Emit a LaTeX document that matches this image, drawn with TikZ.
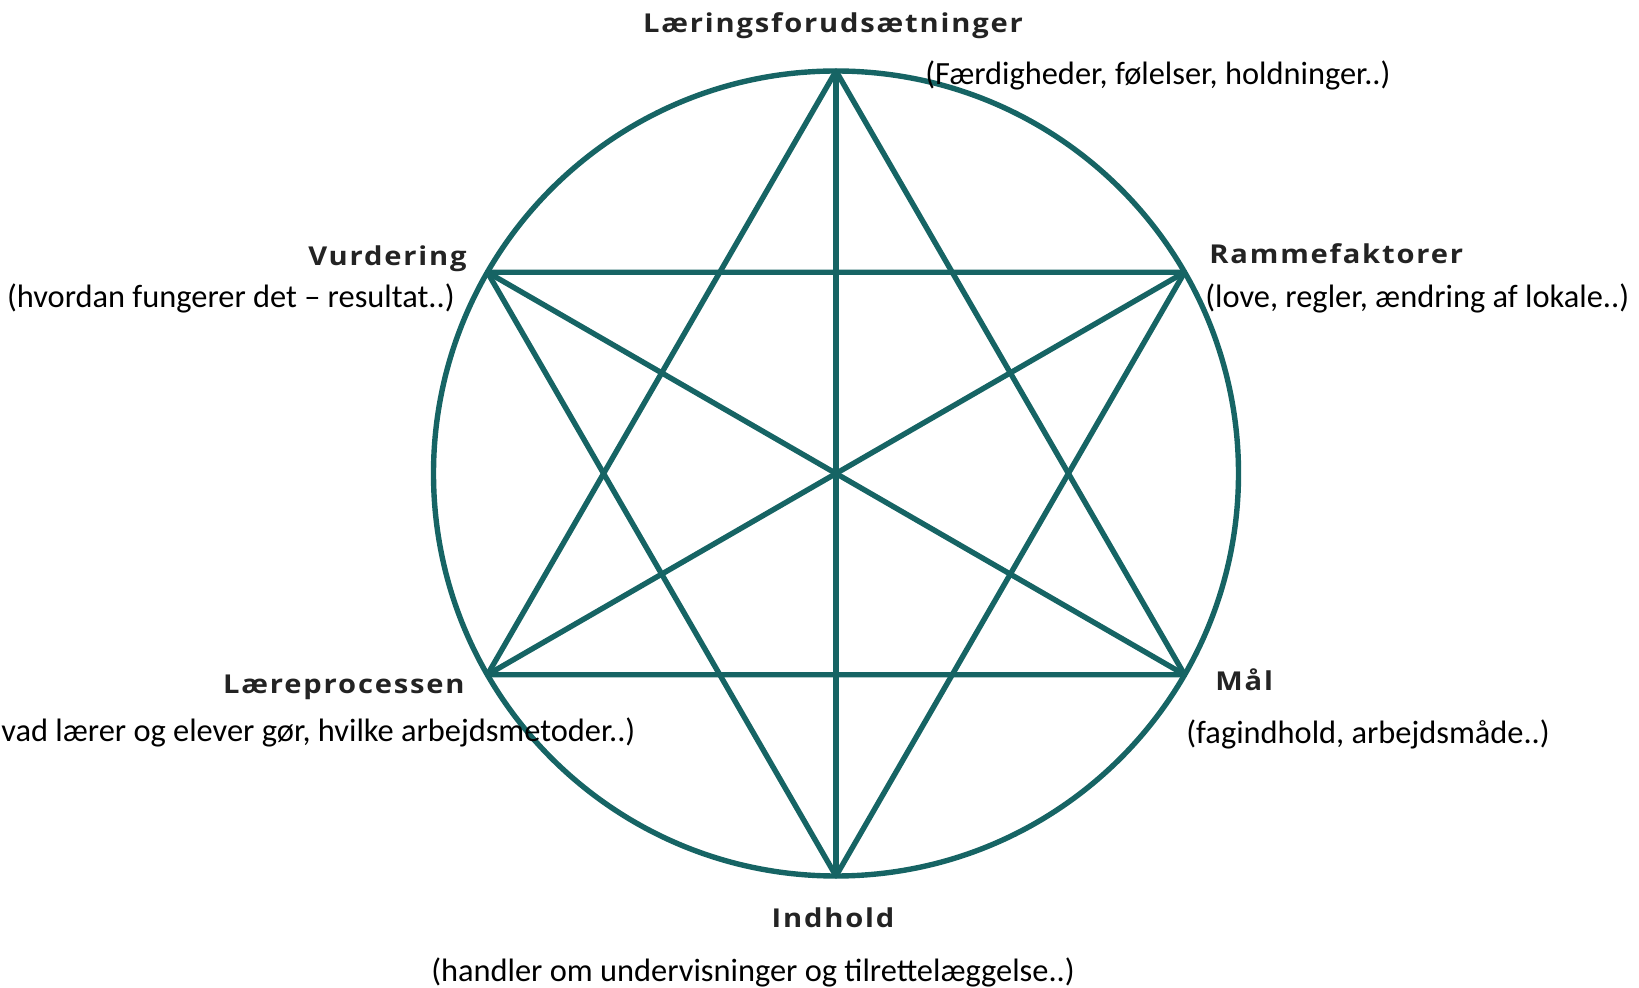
\documentclass[tikz,border=0pt]{standalone}
\usepackage{fontspec}
\setmainfont{Carlito}
\newfontfamily\lblfont[LetterSpace=7,FakeStretch=1.12]{Open Sans}
\definecolor{teal}{RGB}{22,100,100}
\definecolor{lbl}{RGB}{35,35,35}
\begin{document}
\begin{tikzpicture}[x={(0.5pt,0)},y={(0,-0.5pt)},
  edge/.style={draw=teal,line width=2.7pt,line join=round},
  title/.style={inner sep=0pt,text=lbl,font=\lblfont\bfseries\fontsize{13}{15}\selectfont},
  note/.style={inner sep=0pt,text=black,font=\fontsize{16.2}{19}\selectfont}]
\useasboundingbox (0,0) rectangle (1639,988);
\coordinate (c) at (836,473.5);
\coordinate (T) at (836,71);
\coordinate (B) at (836,876);
\coordinate (UL) at (487.4,272.25);
\coordinate (UR) at (1184.6,272.25);
\coordinate (LL) at (487.4,674.75);
\coordinate (LR) at (1184.6,674.75);
\draw[edge] (c) circle[radius=402.5];
\draw[edge] (T) -- (LL) -- (LR) -- cycle;
\draw[edge] (UL) -- (UR) -- (B) -- cycle;
\draw[edge] (T) -- (B);
\draw[edge] (UL) -- (LR);
\draw[edge] (UR) -- (LL);
\node[title] (t1) at (833,26) {Læringsforudsætninger};
\node[note,anchor=west] (n1) at (925,75) {(Færdigheder, følelser, holdninger..)};
\node[title,anchor=east] (t2) at (467,259) {Vurdering};
\node[note,anchor=east] (n2) at (455,298) {(hvordan fungerer det – resultat..)};
\node[title,anchor=west] (t3) at (1209,254) {Rammefaktorer};
\node[note,anchor=west] (n3) at (1205,298) {(love, regler, ændring af lokale..)};
\node[title,anchor=east] (t4) at (465,687) {Læreprocessen};
\node[note,anchor=west] (n4) at (1,732) {vad lærer og elever gør, hvilke arbejdsmetoder..)};
\node[title,anchor=west] (t5) at (1215,680) {Mål};
\node[note,anchor=west] (n5) at (1186,734) {(fagindhold, arbejdsmåde..)};
\node[title] (t6) at (833,918) {Indhold};
\node[note] (n6) at (753,972) {(handler om undervisninger og tilrettelæggelse..)};
\end{tikzpicture}
\end{document}
